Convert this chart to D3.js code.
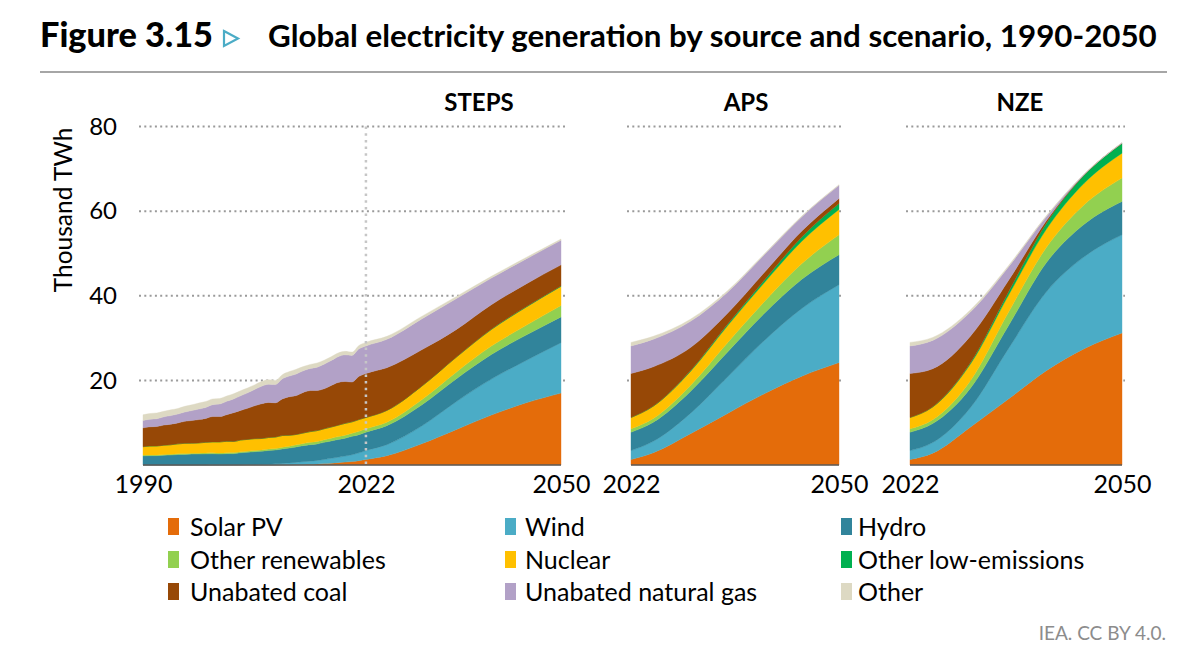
<!DOCTYPE html>
<html><head><meta charset="utf-8">
<script src="https://cdn.jsdelivr.net/npm/d3@7"></script>
<style>
body{margin:0;background:#fff;}
svg{display:block;}
text{font-family:Lato,"Open Sans",sans-serif;fill:#000;}
</style></head><body>
<svg id="chart" width="1200" height="659"></svg>
<script>
// ---------------- DATA ----------------
const sources = ["Solar PV","Wind","Hydro","Other renewables","Nuclear","Other low-emissions","Unabated coal","Unabated natural gas","Other"];
const colors  = ["#E46C0A","#4BACC6","#31849B","#92D050","#FFC000","#00B050","#974806","#B2A1C7","#DDD9C3"];
const scenarios = ["STEPS","APS","NZE"];
const histYears = [1990,1991,1992,1993,1994,1995,1996,1997,1998,1999,2000,2001,2002,2003,2004,2005,2006,2007,2008,2009,2010,2011,2012,2013,2014,2015,2016,2017,2018,2019,2020,2021,2022];
const projYears = [2022,2025,2030,2035,2040,2045,2050];
const yTicks = [20,40,60,80];
const stepsTicks = [1990,2022,2050];
const projTicks = [2022,2050];

// historical, thousand TWh (rows follow `sources`)
const histValues = [
 [0,0,0,0,0,0,0,0,0,0, 0.001,0.001,0.002,0.002,0.003,0.004,0.006,0.008,0.012,0.02, 0.032,0.063,0.097,0.134,0.19,0.25,0.33,0.44,0.56,0.68, 0.83,1.02,1.3],
 [0.004,0.004,0.005,0.006,0.007,0.008,0.009,0.012,0.016,0.021, 0.031,0.038,0.052,0.063,0.085,0.104,0.133,0.171,0.221,0.277, 0.342,0.437,0.52,0.64,0.71,0.83,0.96,1.14,1.27,1.42, 1.59,1.85,2.1],
 [2.16,2.2,2.2,2.3,2.33,2.47,2.5,2.56,2.57,2.6, 2.62,2.55,2.62,2.62,2.8,2.9,3.0,3.05,3.2,3.24, 3.43,3.5,3.66,3.8,3.9,3.9,4.06,4.1,4.2,4.24, 4.35,4.3,4.35],
 [0.17,0.17,0.18,0.18,0.19,0.19,0.2,0.2,0.21,0.21, 0.22,0.22,0.23,0.24,0.25,0.27,0.29,0.31,0.33,0.36, 0.4,0.44,0.48,0.51,0.55,0.58,0.61,0.65,0.68,0.71, 0.74,0.78,0.8],
 [2.0,2.1,2.12,2.2,2.26,2.33,2.41,2.39,2.43,2.52, 2.59,2.65,2.69,2.64,2.76,2.77,2.8,2.72,2.73,2.7, 2.76,2.58,2.46,2.48,2.54,2.57,2.61,2.64,2.7,2.79, 2.69,2.8,2.68],
 [0,0,0,0,0,0,0,0,0,0, 0,0,0,0,0,0,0,0,0,0, 0,0,0,0,0,0,0,0,0,0, 0,0,0],
 [4.45,4.55,4.6,4.75,4.85,4.95,5.2,5.35,5.5,5.65, 5.99,6.0,6.3,6.8,7.0,7.35,7.75,8.2,8.3,8.1, 8.65,9.1,9.2,9.6,9.7,9.5,9.45,9.8,10.1,9.9, 9.4,10.2,10.4],
 [1.73,1.8,1.85,1.95,2.05,2.1,2.2,2.35,2.5,2.6, 2.8,2.95,3.15,3.25,3.45,3.65,3.85,4.15,4.3,4.3, 4.75,4.9,5.1,5.1,5.2,5.5,5.8,5.9,6.1,6.3, 6.3,6.5,6.5],
 [1.35,1.35,1.35,1.3,1.35,1.3,1.35,1.35,1.4,1.4, 1.35,1.3,1.25,1.2,1.2,1.15,1.1,1.1,1.05,1.0, 0.98,1.05,1.1,1.0,0.97,0.98,0.95,0.9,0.85,0.82, 0.78,0.8,0.85]
];
const stepsValues = [
 [1.3,2.2,5.0,8.4,11.8,14.7,17.0],
 [2.1,2.6,4.2,6.6,8.5,10.0,11.9],
 [4.35,4.5,5.0,5.4,5.8,6.0,6.1],
 [0.8,0.8,1.2,1.6,2.0,2.3,2.7],
 [2.68,2.8,3.2,3.5,3.9,4.3,4.5],
 [0,0,0.02,0.05,0.08,0.1,0.1],
 [10.4,10.1,8.6,6.5,5.8,5.4,5.0],
 [6.5,6.7,7.3,7.3,6.3,5.9,5.8],
 [0.85,0.7,0.6,0.5,0.4,0.35,0.3]
];
const apsValues = [
 [1.3,2.9,7.4,12.2,16.9,21.0,24.2],
 [2.1,2.7,4.8,8.6,12.6,16.0,18.4],
 [4.35,4.5,5.2,5.9,6.4,6.9,7.1],
 [0.8,0.9,1.4,2.2,2.8,3.7,4.7],
 [2.68,2.9,3.3,4.0,4.5,5.3,6.0],
 [0,0.02,0.15,0.35,0.6,1.0,1.4],
 [10.4,9.3,5.5,2.6,1.8,1.4,1.2],
 [6.5,6.5,6.2,5.0,4.2,3.4,3.1],
 [0.85,0.7,0.5,0.35,0.2,0.15,0.15]
];
const nzeValues = [
 [1.3,2.8,9.0,15.6,22.3,27.5,31.2],
 [2.1,2.5,4.6,11.9,18.6,21.7,23.2],
 [4.35,4.5,4.6,5.4,6.9,7.7,7.9],
 [0.8,0.9,1.8,3.2,3.6,4.6,5.5],
 [2.68,3.0,3.9,4.0,4.3,5.1,5.9],
 [0,0.05,0.3,0.8,1.4,1.9,2.3],
 [10.4,9.0,6.3,2.7,0.6,0.1,0.05],
 [6.5,6.7,5.7,3.2,1.0,0.1,0.1],
 [0.85,0.7,0.5,0.3,0.2,0.1,0.05]
];

// ---------------- BUILD TABLES ----------------
function rows(years, values){
  return years.map((yr,i)=>{
    const r={year:yr};
    sources.forEach((s,k)=>{ r[s]=values[k][i]; });
    return r;
  });
}
const stepsRows = rows(histYears, histValues).concat(rows(projYears, stepsValues).slice(1));
const apsRows = rows(projYears, apsValues);
const nzeRows = rows(projYears, nzeValues);

// ---------------- LAYOUT ----------------
const svg = d3.select("#chart");
const y = d3.scaleLinear().domain([0,80]).range([465,126.5]);
const panels = [
  {name:"STEPS", data:stepsRows, x:d3.scaleLinear().domain([1990,2050]).range([143,561]), grid:[139,566], ticks:stepsTicks, titleX:479},
  {name:"APS",   data:apsRows,   x:d3.scaleLinear().domain([2022,2050]).range([631,839]), grid:[627,842], ticks:projTicks, titleX:746},
  {name:"NZE",   data:nzeRows,   x:d3.scaleLinear().domain([2022,2050]).range([910,1122]), grid:[906,1125], ticks:projTicks, titleX:1020}
];
const stack = d3.stack().keys(sources);

function fitWidth(sel, base, target){
  const w = sel.node().getComputedTextLength();
  sel.style("font-size",(base*target/w).toFixed(2)+"px");
}

// Title
const t1 = svg.append("text").attr("x",40).attr("y",47).style("font-size","28px").style("font-weight","900")
  .text("Figure 3.15");
fitWidth(t1, 28, 173);
svg.append("path").attr("d","M224,31 L238,38.5 L224,46 Z").attr("fill","none").attr("stroke","#4BACC6").attr("stroke-width",2.2);
const t2 = svg.append("text").attr("x",268).attr("y",47).style("font-size","27px").style("font-weight","700")
  .text("Global electricity generation by source and scenario, 1990-2050");
fitWidth(t2, 27, 889);
svg.append("line").attr("x1",40).attr("x2",1167).attr("y1",72).attr("y2",72).attr("stroke","#a6a6a6").attr("stroke-width",2);

// Y-axis title
svg.append("text").attr("transform","translate(72,210) rotate(-90)").attr("text-anchor","middle")
  .style("font-size","24.5px").text("Thousand TWh");

// Y tick labels (STEPS only)
const yAxis = d3.axisLeft(y).tickValues(yTicks).tickSize(0).tickPadding(0);
const ya = svg.append("g").attr("transform","translate(117,0)").call(yAxis);
ya.select(".domain").remove();
ya.selectAll("text").style("font-size","24px").style("font-family","Lato, 'Open Sans', sans-serif").attr("fill","#000");

panels.forEach(p=>{
  const g = svg.append("g");
  // gridlines
  g.selectAll("line.grid").data(yTicks).join("line")
    .attr("x1",p.grid[0]).attr("x2",p.grid[1]).attr("y1",d=>y(d)).attr("y2",d=>y(d))
    .attr("stroke","#9a9a9a").attr("stroke-width",2).attr("stroke-dasharray","2,3.3");
  // areas
  const series = stack(p.data);
  const area = d3.area().x(d=>p.x(d.data.year)).y0(d=>y(d[0])).y1(d=>y(d[1])).curve(d3.curveMonotoneX);
  g.selectAll("path.layer").data(series).join("path").attr("class","layer")
    .attr("d",area).attr("fill",(d,i)=>colors[i]).attr("stroke",(d,i)=>colors[i]).attr("stroke-width",0.4);
  // baseline
  g.append("line").attr("x1",p.x.range()[0]).attr("x2",p.x.range()[1]).attr("y1",y(0)).attr("y2",y(0))
    .attr("stroke","#5a5a5a").attr("stroke-width",1.5);
  // x axis labels
  const xAxis = d3.axisBottom(p.x).tickValues(p.ticks).tickSize(0).tickPadding(0).tickFormat(d3.format("d"));
  const xa = g.append("g").attr("transform","translate(0,475)").call(xAxis);
  xa.select(".domain").remove();
  xa.selectAll("text").style("font-size","25px").style("font-family","Lato, 'Open Sans', sans-serif").attr("fill","#000");
  // panel title
  const tt = g.append("text").attr("x",p.titleX).attr("y",111).attr("text-anchor","middle")
    .style("font-size","24px").style("font-weight","700").text(p.name);
});

// 2022 divider in STEPS
const sx = panels[0].x;
svg.append("line").attr("x1",sx(2022)).attr("x2",sx(2022)).attr("y1",y(80)).attr("y2",y(0))
  .attr("stroke","#c6c6c6").attr("stroke-width",2.5).attr("stroke-dasharray","2.5,4.2");

// Legend
const colX = [[168,190],[505,525],[841,858]];
const rowY = [527,560,592];
sources.forEach((s,i)=>{
  const c=i%3, r=Math.floor(i/3);
  svg.append("rect").attr("x",colX[c][0]).attr("y",rowY[r]-9).attr("width",11).attr("height",17).attr("fill",colors[i]);
  svg.append("text").attr("x",colX[c][1]).attr("y",rowY[r]+8.5).style("font-size","25px").text(s);
});

// Source
svg.append("text").attr("x",1166).attr("y",640).attr("text-anchor","end").style("font-size","19px")
  .style("fill","#8c8c8c").text("IEA. CC BY 4.0.");
</script>
</body></html>
